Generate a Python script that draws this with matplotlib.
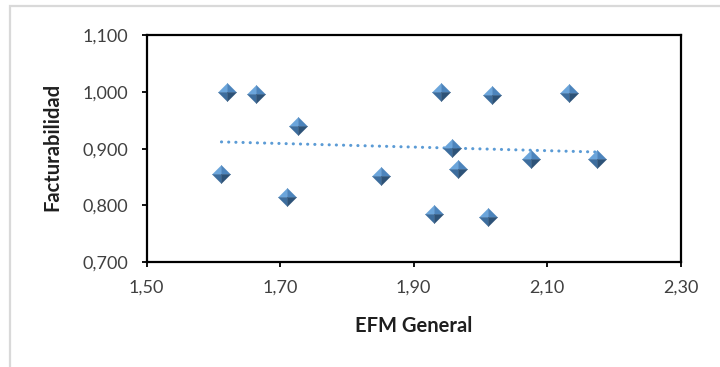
import numpy as np
import matplotlib
matplotlib.use("Agg")
import matplotlib.pyplot as plt
from matplotlib.path import Path
from matplotlib.lines import Line2D
from matplotlib.ticker import FuncFormatter, FixedLocator

# EFM General vs. Facturabilidad
efm = [1.612, 1.620, 1.664, 1.726, 1.710, 1.851, 1.941, 1.930,
       1.958, 1.966, 2.018, 2.012, 2.075, 2.133, 2.174]
facturabilidad = [0.856, 0.999, 0.997, 0.940, 0.815, 0.852, 0.999, 0.785,
                  0.901, 0.864, 0.995, 0.780, 0.882, 0.998, 0.882]

x_ticks = [1.50, 1.70, 1.90, 2.10, 2.30]
y_ticks = [0.700, 0.800, 0.900, 1.000, 1.100]

plt.rcParams['font.family'] = ['Lato', 'DejaVu Sans']

fig = plt.figure(figsize=(7.2, 3.67), dpi=100)
ax = fig.add_axes([146.7 / 720, 1 - 262.3 / 367, 534 / 720, 227.3 / 367])

# light chart frame
frame_col = '#d9d9d9'
fig.add_artist(Line2D([10 / 720, 10 / 720, 1.0], [0.0, 1 - 6 / 367, 1 - 6 / 367],
                      transform=fig.transFigure, color=frame_col, lw=1.6,
                      solid_joinstyle='miter'))

# linear trend line
coef = np.polyfit(efm, facturabilidad, 1)
xt = np.array([min(efm), max(efm)])
ax.plot(xt, np.polyval(coef, xt), color='#5B9BD5', lw=2.2,
        linestyle=(0, (0.05, 2.3)), dash_capstyle='round', zorder=2)

# pyramid-shaded diamond markers, one facet at a time
facets = [
    ([(0, 0), (-1, 0), (0, 1), (0, 0)], '#6BA5DB'),   # upper left
    ([(0, 0), (0, 1), (1, 0), (0, 0)], '#4C84BC'),    # upper right
    ([(0, 0), (0, -1), (-1, 0), (0, 0)], '#3D6D9D'),  # lower left
    ([(0, 0), (1, 0), (0, -1), (0, 0)], '#2D5277'),   # lower right
]
for verts, col in facets:
    mk = Path(verts, [Path.MOVETO, Path.LINETO, Path.LINETO, Path.CLOSEPOLY])
    ax.plot(efm, facturabilidad, linestyle='none', marker=mk,
            markersize=13, markerfacecolor=col, markeredgecolor=col,
            markeredgewidth=0.3, zorder=3)

ax.set_xlim(1.50, 2.30)
ax.set_ylim(0.700, 1.100)
ax.xaxis.set_major_locator(FixedLocator(x_ticks))
ax.yaxis.set_major_locator(FixedLocator(y_ticks))
ax.xaxis.set_major_formatter(FuncFormatter(lambda v, p: f"{v:.2f}".replace('.', ',')))
ax.yaxis.set_major_formatter(FuncFormatter(lambda v, p: f"{v:.3f}".replace('.', ',')))

for s in ax.spines.values():
    s.set_linewidth(1.6)
    s.set_color('black')
ax.tick_params(axis='both', direction='out', length=3.6, width=1.3,
               labelsize=13, colors='black', labelcolor='#404040')
ax.tick_params(axis='y', pad=9.5)
ax.tick_params(axis='x', pad=9)

ax.set_xlabel('EFM General', fontsize=14.5, fontweight='bold', color='#1f1f1f')
ax.xaxis.set_label_coords(0.5, -0.3066)
ax.xaxis.label.set_verticalalignment('baseline')
ax.set_ylabel('Facturabilidad', fontsize=14.5, fontweight='bold', color='#1f1f1f')
ax.yaxis.set_label_coords(-0.177, 0.509)
ax.yaxis.label.set_verticalalignment('center')

fig.savefig('out.png', dpi=100)
